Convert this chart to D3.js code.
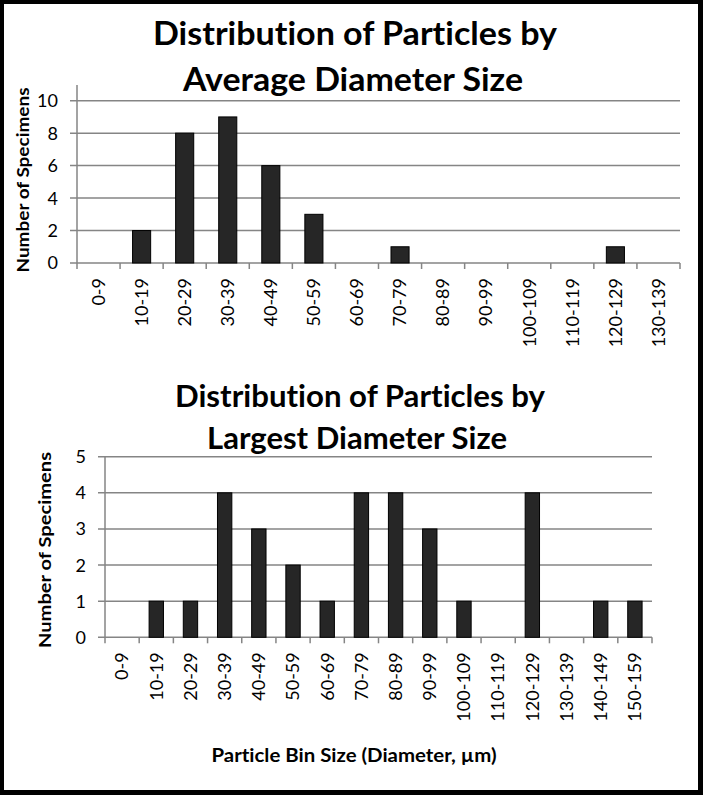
<!DOCTYPE html>
<html>
<head>
<meta charset="utf-8">
<script src="https://cdn.jsdelivr.net/npm/d3@7"></script>
<style>
  body { margin: 0; background: #000; }
  svg { display: block; }
  text {
    font-family: Lato, "Open Sans", sans-serif;
    fill: #000;
    font-variant-ligatures: none;
    font-feature-settings: "liga" 0, "clig" 0, "dlig" 0;
  }
</style>
</head>
<body>
<svg id="chart" width="703" height="795"></svg>
<script>
// average diameter histogram
const avgBins = ['0-9', '10-19', '20-29', '30-39', '40-49', '50-59', '60-69',
    '70-79', '80-89', '90-99', '100-109', '110-119', '120-129', '130-139'];
const avgCounts = [0, 2, 8, 9, 6, 3, 0, 1, 0, 0, 0, 0, 1, 0];
const avgTicks = [0, 2, 4, 6, 8, 10];

// largest diameter histogram
const largestBins = ['0-9', '10-19', '20-29', '30-39', '40-49', '50-59', '60-69',
    '70-79', '80-89', '90-99', '100-109', '110-119', '120-129', '130-139',
    '140-149', '150-159'];
const largestCounts = [0, 1, 1, 4, 3, 2, 1, 4, 4, 3, 1, 0, 4, 0, 1, 1];
const largestTicks = [0, 1, 2, 3, 4, 5];

const gridColour = '#858585';

const svg = d3.select('#chart');

// white card inside the black frame
svg.append('rect')
    .attr('x', 4).attr('y', 4)
    .attr('width', 694).attr('height', 786)
    .attr('fill', '#fff');

function drawChart(opts) {
    const g = svg.append('g');

    const slot = d3.scaleBand()
        .domain(opts.bins)
        .range([opts.left, opts.right])
        .padding(0);

    const bar = d3.scaleBand()
        .domain(opts.bins)
        .range([opts.left, opts.right])
        .paddingInner(0.58)
        .paddingOuter(0.29);

    const y = d3.scaleLinear()
        .domain([0, d3.max(opts.ticks)])
        .range([opts.bottom, opts.top]);

    // title
    opts.title.forEach(line => {
        g.append('text')
            .attr('x', line.cx)
            .attr('y', line.y)
            .attr('text-anchor', 'middle')
            .attr('font-size', opts.titleSize)
            .attr('font-weight', 700)
            .attr('textLength', line.w)
            .attr('lengthAdjust', 'spacingAndGlyphs')
            .text(line.text);
    });

    // gridlines
    g.selectAll('.grid')
        .data(opts.ticks)
        .join('line')
        .classed('grid', true)
        .attr('x1', opts.left - 7)
        .attr('x2', opts.right)
        .attr('y1', d => y(d))
        .attr('y2', d => y(d))
        .attr('stroke', gridColour)
        .attr('stroke-width', 1.5);

    // y axis line
    g.append('line')
        .attr('x1', opts.left).attr('x2', opts.left)
        .attr('y1', opts.axisTop).attr('y2', opts.bottom)
        .attr('stroke', gridColour)
        .attr('stroke-width', 1.5);

    // y tick labels
    g.selectAll('.ylab')
        .data(opts.ticks)
        .join('text')
        .classed('ylab', true)
        .attr('x', opts.left - 19)
        .attr('y', d => y(d))
        .attr('dy', '0.36em')
        .attr('text-anchor', 'end')
        .attr('font-size', 18)
        .text(d => d);

    // x tick marks at bin boundaries
    const edges = opts.bins.map(b => slot(b)).concat([opts.right]);
    g.selectAll('.xtick')
        .data(edges)
        .join('line')
        .classed('xtick', true)
        .attr('x1', d => d).attr('x2', d => d)
        .attr('y1', opts.bottom).attr('y2', opts.bottom + 6)
        .attr('stroke', gridColour)
        .attr('stroke-width', 1.5);

    // bars
    g.selectAll('.bar')
        .data(opts.counts)
        .join('rect')
        .classed('bar', true)
        .attr('x', (d, i) => bar(opts.bins[i]))
        .attr('width', bar.bandwidth())
        .attr('y', d => y(d))
        .attr('height', d => opts.bottom - y(d))
        .attr('fill', '#262626')
        .attr('stroke', '#000')
        .attr('stroke-width', 1);

    // x tick labels
    g.selectAll('.xlab')
        .data(opts.bins)
        .join('text')
        .classed('xlab', true)
        .attr('transform', d =>
            `translate(${slot(d) + slot.bandwidth() / 2}, ${opts.bottom + 15}) rotate(-90)`)
        .attr('dy', '0.35em')
        .attr('text-anchor', 'end')
        .attr('font-size', 18)
        .text(d => d);

    // y axis title
    g.append('text')
        .attr('transform', `translate(${opts.ylabel.x}, ${opts.ylabel.y}) rotate(-90)`)
        .attr('dy', '0.35em')
        .attr('text-anchor', 'middle')
        .attr('font-size', 17)
        .attr('font-weight', 700)
        .attr('textLength', opts.ylabel.w)
        .attr('lengthAdjust', 'spacingAndGlyphs')
        .text('Number of Specimens');
}

drawChart({
    bins: avgBins,
    counts: avgCounts,
    ticks: avgTicks,
    left: 77, right: 680, top: 100.7, bottom: 263, axisTop: 85,
    titleSize: 33,
    title: [
        { text: 'Distribution of Particles by', cx: 355, y: 45, w: 404 },
        { text: 'Average Diameter Size', cx: 353, y: 90.5, w: 340 }
    ],
    ylabel: { x: 23, y: 180, w: 185 }
});

drawChart({
    bins: largestBins,
    counts: largestCounts,
    ticks: largestTicks,
    left: 105, right: 652, top: 456.7, bottom: 637.3, axisTop: 456.7,
    titleSize: 31,
    title: [
        { text: 'Distribution of Particles by', cx: 360, y: 406.5, w: 370 },
        { text: 'Largest Diameter Size', cx: 357, y: 449.3, w: 300 }
    ],
    ylabel: { x: 45, y: 550, w: 196 }
});

svg.append('text')
    .attr('x', 354)
    .attr('y', 762)
    .attr('text-anchor', 'middle')
    .attr('font-size', 18)
    .attr('font-weight', 700)
    .attr('textLength', 285)
    .attr('lengthAdjust', 'spacingAndGlyphs')
    .text('Particle Bin Size (Diameter, µm)');
</script>
</body>
</html>
